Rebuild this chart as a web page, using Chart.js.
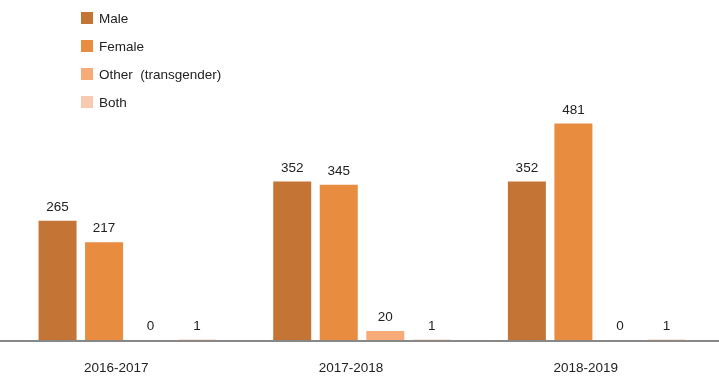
<!DOCTYPE html>
<html>
<head>
<meta charset="utf-8">
<script src="https://cdn.jsdelivr.net/npm/chart.js@4/dist/chart.umd.min.js"></script>
<style>
  html, body { margin: 0; padding: 0; background: #fff; }
  #wrap { position: relative; width: 719px; height: 379px; }
  #legend { position: absolute; left: 81px; top: 4px; font: 13.5px "Liberation Sans", Arial, sans-serif; color: #222; }
  #legend div { height: 28px; display: flex; align-items: center; white-space: pre; }
  #legend span { display: inline-block; width: 12px; height: 12px; margin-right: 6px; }
</style>
</head>
<body>
<div id="wrap">
  <canvas id="grafico" width="719" height="379"></canvas>
  <div id="legend"></div>
</div>
<script>
const years = ["2016-2017", "2017-2018", "2018-2019"];
const male = [265, 352, 352];
const female = [217, 345, 481];
const other = [0, 20, 0];
const both = [1, 1, 1];

const series = [
  { label: "Male", data: male, color: "#c47536" },
  { label: "Female", data: female, color: "#e88c40" },
  { label: "Other  (transgender)", data: other, color: "#f7ab79" },
  { label: "Both", data: both, color: "#f8cab2" }
];

const FONT = '13.5px "Liberation Sans", Arial, sans-serif';

// value above each bar, baseline line and the year labels
const etiquetas = {
  id: "etiquetas",
  afterDatasetsDraw(chart) {
    const ctx = chart.ctx;
    const area = chart.chartArea;
    ctx.save();
    ctx.font = FONT;
    ctx.fillStyle = "#222";
    ctx.textAlign = "center";
    ctx.textBaseline = "bottom";
    chart.data.datasets.forEach((ds, i) => {
      chart.getDatasetMeta(i).data.forEach((bar, j) => {
        ctx.fillText(String(ds.data[j]), bar.x, bar.y - 7);
      });
    });

    ctx.strokeStyle = "#888";
    ctx.lineWidth = 2;
    ctx.beginPath();
    ctx.moveTo(0, area.bottom + 1);
    ctx.lineTo(chart.width, area.bottom + 1);
    ctx.stroke();

    ctx.textBaseline = "middle";
    const x = chart.scales.x;
    years.forEach((y, i) => {
      ctx.fillText(y, x.getPixelForValue(i) - 11, 368);
    });
    ctx.restore();
  }
};

new Chart(document.getElementById("grafico"), {
  type: "bar",
  data: {
    labels: years,
    datasets: series.map(s => ({
      label: s.label,
      data: s.data,
      backgroundColor: s.color,
      categoryPercentage: 0.793,
      barPercentage: 0.817
    }))
  },
  options: {
    responsive: false,
    animation: false,
    layout: { padding: { left: 10, right: 5, top: 70, bottom: 39 } },
    plugins: { legend: { display: false }, tooltip: { enabled: false } },
    scales: {
      x: { display: false },
      y: { display: false, min: 0, max: 600 }
    }
  },
  plugins: [etiquetas]
});

const legend = document.getElementById("legend");
series.forEach(s => {
  const row = document.createElement("div");
  const box = document.createElement("span");
  box.style.background = s.color;
  row.appendChild(box);
  row.appendChild(document.createTextNode(s.label));
  legend.appendChild(row);
});
</script>
</body>
</html>
